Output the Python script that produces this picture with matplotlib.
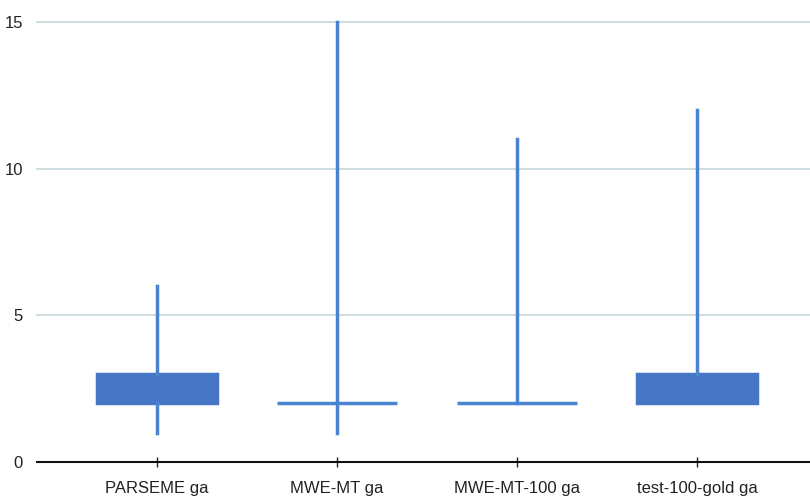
import matplotlib
matplotlib.use("Agg")
import matplotlib.pyplot as plt

plt.rcParams["font.family"] = ["Liberation Sans", "DejaVu Sans"]

categories = ["PARSEME ga", "MWE-MT ga", "MWE-MT-100 ga", "test-100-gold ga"]
q1 = [2, 2, 2, 2]
q3 = [3, 2, 2, 3]
med = [2, 2, 2, 2]
whislo = [1, 1, 2, 2]
whishi = [6, 15, 11, 12]
yticks = [0, 5, 10, 15]

fig = plt.figure(figsize=(8.1, 4.97), dpi=100)
ax = fig.add_axes([37/810, 35/497, (810-37)/810, 454.7/497])

stats = [dict(label=c, q1=a, q3=b, med=m, whislo=lo, whishi=hi, fliers=[])
         for c, a, b, m, lo, hi in zip(categories, q1, q3, med, whislo, whishi)]

box_c = "#4676c4"
line_c = "#4a84d0"
ax.bxp(stats, positions=range(len(categories)), widths=0.667, patch_artist=True,
       showcaps=False, showfliers=False,
       boxprops=dict(facecolor=box_c, edgecolor=box_c, linewidth=2.5),
       medianprops=dict(color=box_c, linewidth=0),
       whiskerprops=dict(color=line_c, linewidth=2.5))
# flat boxes appear as lines in the whisker colour
for i, (a, b) in enumerate(zip(q1, q3)):
    if a == b:
        ax.patches[i].set_edgecolor(line_c)

ax.set_xlim(-0.667, 3.628)
ax.set_ylim(0, 15.5)
ax.set_yticks(yticks)
ax.set_xticks(range(len(categories)))
ax.set_xticklabels(categories, fontsize=12, color="#222222")
ax.tick_params(axis="y", length=0, labelsize=12, labelcolor="#222222", pad=10)
ax.tick_params(axis="x", direction="inout", length=7, width=1, color="#222222", pad=10)
for y in yticks[1:]:
    ax.axhline(y, color="#c5d8da", linewidth=1.2, zorder=0)
for s in ["top", "right", "left"]:
    ax.spines[s].set_visible(False)
ax.spines["bottom"].set_color("#111111")
ax.spines["bottom"].set_linewidth(1.5)
for ln in ax.lines:
    ln.set_clip_on(False)

fig.savefig("out.png", dpi=100)
